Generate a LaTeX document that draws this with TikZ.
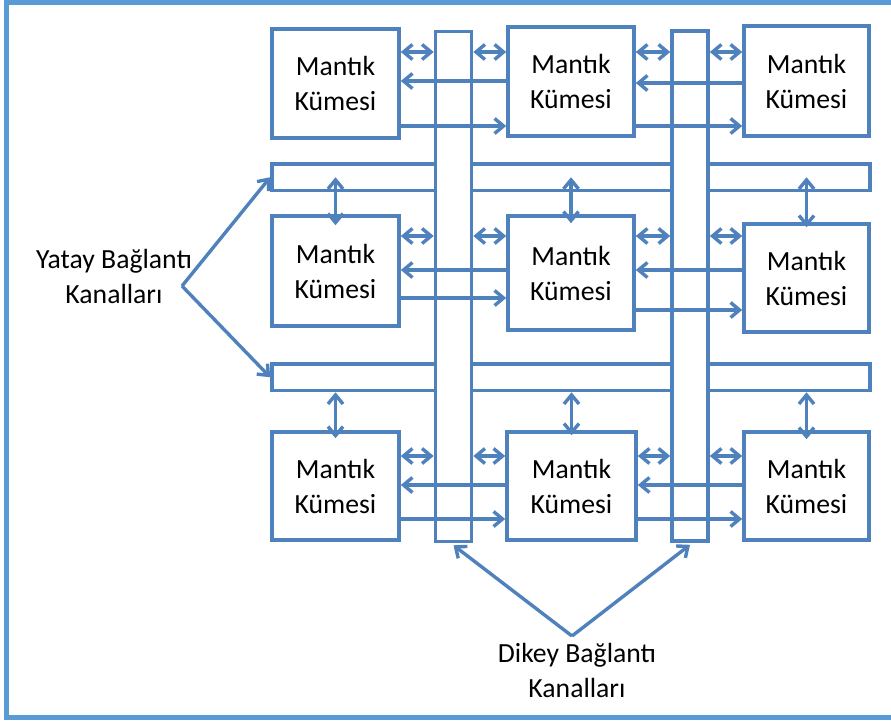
\documentclass[tikz,border=0pt]{standalone}
\usepackage{fontspec}
\setmainfont{Carlito}
\usetikzlibrary{arrows.meta}
\definecolor{chan}{HTML}{4F81BD}
\definecolor{framecol}{HTML}{5B9BD5}
\begin{document}
\begin{tikzpicture}[x=1pt,y=-1pt,
  txt/.style={font=\fontsize{27.7}{35}\selectfont, align=center, text=black},
  blk/.style={txt, draw=chan, line width=3.6pt, fill=white, inner sep=0pt},
  lane/.style={draw=chan, line width=3.6pt, fill=white, inner sep=0pt},
  tipv/.tip={Straight Barb[length=9pt,width=15pt]},
  one/.style={draw=chan, line width=3.4pt, -tipv},
  dbl/.style={draw=chan, line width=3.4pt, tipv-tipv},
  lbl/.style={txt, inner sep=0pt}]
\useasboundingbox (0,0) rectangle (891,720);
\clip (0,0) rectangle (891,720);

% outer frame (runs off the right edge)
\draw[framecol, line width=5.5pt] (6.5,2) rectangle (910,717.5);

% horizontal routing channels
\node[lane, minimum width=598pt, minimum height=26.5pt] (h1) at (571,177.25) {};
\node[lane, minimum width=598pt, minimum height=26.5pt] (h2) at (571,377.25) {};

% vertical routing channels, drawn over the horizontal ones
\node[lane, minimum width=36pt, minimum height=510pt] (v1) at (453.5,286.5) {};
\node[lane, minimum width=36pt, minimum height=510pt] (v2) at (690,286) {};

% logic clusters
\node[blk, minimum width=127pt, minimum height=109pt] (b11) at (335.5,83.5) {Mantık\\Kümesi};
\node[blk, minimum width=126pt, minimum height=109pt] (b12) at (571,81.5) {Mantık\\Kümesi};
\node[blk, minimum width=125pt, minimum height=110pt] (b13) at (806.5,81) {Mantık\\Kümesi};
\node[blk, minimum width=127pt, minimum height=110pt] (b21) at (335.5,271) {Mantık\\Kümesi};
\node[blk, minimum width=126pt, minimum height=114pt] (b22) at (571,273) {Mantık\\Kümesi};
\node[blk, minimum width=125pt, minimum height=108pt] (b23) at (806.5,278) {Mantık\\Kümesi};
\node[blk, minimum width=127pt, minimum height=108pt] (b31) at (335.5,486) {Mantık\\Kümesi};
\node[blk, minimum width=129pt, minimum height=108pt] (b32) at (571.5,486) {Mantık\\Kümesi};
\node[blk, minimum width=125pt, minimum height=108pt] (b33) at (806.5,486) {Mantık\\Kümesi};

% per-row levels: double arrows, leftward (left/right half), rightward (left/right half)
\foreach \r/\a/\bl/\br/\cl/\cr in {1/52/81/83/126/126, 2/236/270/270/298/310, 3/456/485/485/519/519} {
  \coordinate (ya\r) at (0,\a);
  \coordinate (ybl\r) at (0,\bl);
  \coordinate (ybr\r) at (0,\br);
  \coordinate (ycl\r) at (0,\cl);
  \coordinate (ycr\r) at (0,\cr);
  \draw[dbl] (b\r1.east |- ya\r) -- (v1.west |- ya\r);
  \draw[dbl] (v1.east |- ya\r) -- (b\r2.west |- ya\r);
  \draw[dbl] (b\r2.east |- ya\r) -- (v2.west |- ya\r);
  \draw[dbl] (v2.east |- ya\r) -- (b\r3.west |- ya\r);
  \draw[one] (b\r2.west |- ybl\r) -- (b\r1.east |- ybl\r);
  \draw[one] (b\r1.east |- ycl\r) -- (b\r2.west |- ycl\r);
  \draw[one] (b\r3.west |- ybr\r) -- (b\r2.east |- ybr\r);
  \draw[one] (b\r2.east |- ycr\r) -- (b\r3.west |- ycr\r);
}

% links between horizontal channels and clusters
\draw[dbl] (b21.north |- h1.center) -- ([yshift=-11pt]b21.north);
\draw[dbl] (b22.north |- h1.center) -- ([yshift=-9pt]b22.north);
\draw[dbl] (b23.north |- h1.center) -- ([yshift=-5pt]b23.north);
\draw[dbl] (b31.north |- h2.south) -- ([yshift=-8pt]b31.north);
\draw[dbl] (b32.north |- h2.south) -- ([yshift=-5pt]b32.north);
\draw[dbl] (b33.north |- h2.south) -- ([yshift=-9pt]b33.north);

% labels with pointer arrows
\node[lbl] (ylab) at (114,276) {Yatay Bağlantı\\Kanalları};
\node[lbl] (dlab) at (577,670) {Dikey Bağlantı\\Kanalları};
\coordinate (yap) at (182,286);
\coordinate (dap) at (572,636);
\draw[one] (yap) -- (h1.west);
\draw[one] (yap) -- (h2.west);
\draw[one] (dap) -- ([yshift=-2pt]v1.south);
\draw[one] (dap) -- ([yshift=-2pt]v2.south);
\end{tikzpicture}
\end{document}
